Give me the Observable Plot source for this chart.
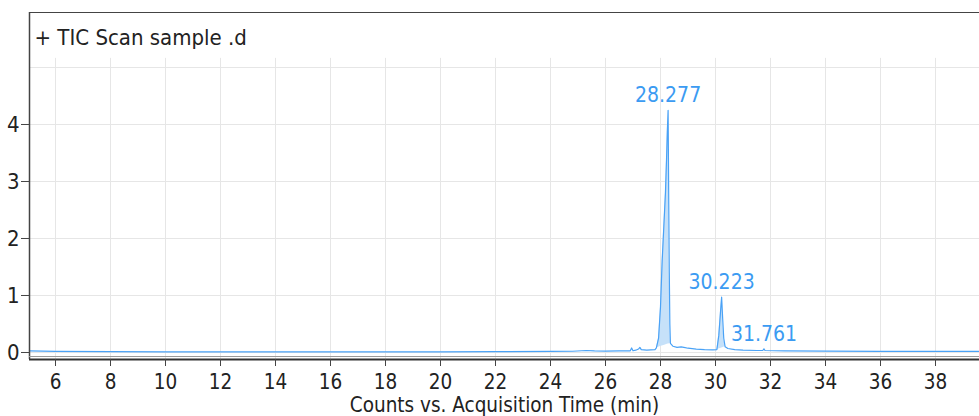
<!DOCTYPE html>
<html>
<head>
<meta charset="utf-8">
<script src="https://cdn.jsdelivr.net/npm/d3@7"></script>
<script src="https://cdn.jsdelivr.net/npm/@observablehq/plot@0.6"></script>
<style>
  html, body { margin: 0; padding: 0; background: #fff; }
  #chart { width: 979px; height: 416px; overflow: hidden; }
</style>
</head>
<body>
<div id="chart"></div>
<script>
// ---- Data ----
const chartTitle = "+ TIC Scan sample .d";
const xAxisTitle = "Counts vs. Acquisition Time (min)";

const times = [5.05, 6, 8, 10, 12, 15, 18, 20, 22, 24, 24.8, 25.3, 25.6, 26.0, 26.5, 26.9, 26.95, 27.0, 27.1, 27.2, 27.25, 27.3, 27.5, 27.8, 27.85, 27.93, 28.0, 28.06, 28.12, 28.18, 28.22, 28.25, 28.277, 28.3, 28.32, 28.34, 28.36, 28.45, 28.6, 28.75, 28.85, 29.0, 29.3, 29.6, 29.9, 30.05, 30.12, 30.18, 30.223, 30.26, 30.3, 30.35, 30.45, 30.7, 31.0, 31.5, 31.72, 31.761, 31.8, 32.5, 34, 36, 38, 39.6];
const counts = [0.03, 0.02, 0.015, 0.012, 0.012, 0.012, 0.012, 0.012, 0.014, 0.018, 0.022, 0.035, 0.028, 0.025, 0.03, 0.03, 0.08, 0.03, 0.04, 0.06, 0.09, 0.05, 0.04, 0.05, 0.08, 0.25, 0.8, 1.6, 2.2, 2.8, 3.4, 3.9, 4.25, 2.6, 1.4, 0.5, 0.16, 0.11, 0.09, 0.1, 0.09, 0.075, 0.06, 0.05, 0.045, 0.05, 0.3, 0.7, 0.97, 0.6, 0.25, 0.1, 0.07, 0.05, 0.04, 0.035, 0.035, 0.065, 0.035, 0.03, 0.025, 0.02, 0.02, 0.02];

// Labelled peaks (retention time, apex height)
const peakTimes = [28.277, 30.223, 31.761];
const peakHeights = [4.25, 0.97, 0.065];
const peakLabels = ["28.277", "30.223", "31.761"];

// Integrated peak windows (start, end)
const fillStarts = [27.85, 30.05];
const fillEnds = [28.36, 30.35];

const xTicks = [6, 8, 10, 12, 14, 16, 18, 20, 22, 24, 26, 28, 30, 32, 34, 36, 38];
const yTickLabels = [0, 1, 2, 3, 4];
const yGrid = [0, 1, 2, 3, 4, 5];

// ---- Derived tables ----
const trace = times.map((t, i) => ({t, v: counts[i]}));
const peaks = peakTimes.map((t, i) => ({t, v: peakHeights[i], label: peakLabels[i]}));
const fills = [];
fillStarts.forEach((s, k) => {
  const e = fillEnds[k];
  const pts = trace.filter(d => d.t >= s && d.t <= e);
  const v0 = pts[0].v, v1 = pts[pts.length - 1].v;
  pts.forEach(d => fills.push({peak: k, t: d.t, v: d.v, base: v0 + (v1 - v0) * (d.t - s) / (e - s)}));
});

const xDomain = [5.0545, 39.6];
const yDomain = [-0.123, 5.965];
const gridTop = 5.16;

const lineColor = "#4aa2f6";
const labelColor = "#3b9bf2";
const fillColor = "#c6e1f9";
const axisColor = "#444";
const font = "'DejaVu Sans Condensed', 'DejaVu Sans', sans-serif";

const chart = Plot.plot({
  width: 979,
  height: 416,
  marginLeft: 29,
  marginRight: 0,
  marginTop: 12,
  marginBottom: 57,
  style: {fontFamily: font, fontSize: "21px", color: "#222", background: "#fff"},
  x: {domain: xDomain},
  y: {domain: yDomain},
  marks: [
    Plot.ruleY(yGrid, {stroke: "#e6e6e6", strokeWidth: 1}),
    Plot.ruleX(xTicks, {y1: yDomain[0], y2: gridTop, stroke: "#e6e6e6", strokeWidth: 1}),
    Plot.areaY(fills, {x: "t", y1: "base", y2: "v", z: "peak", fill: fillColor, curve: "linear"}),
    Plot.line(trace, {x: "t", y: "v", stroke: lineColor, strokeWidth: 1.2, curve: "linear"}),
    Plot.text(peaks, {x: "t", y: "v", text: "label", fill: labelColor, fontSize: 21, textAnchor: "middle", lineAnchor: "bottom", dy: -8}),
    // frame
    Plot.ruleX([xDomain[0]], {stroke: axisColor, strokeWidth: 1.5}),
    Plot.ruleY([yDomain[1]], {stroke: axisColor, strokeWidth: 1.2}),
    Plot.ruleY([yDomain[0]], {stroke: "#999", strokeWidth: 1, dy: -3}),
    Plot.ruleY([yDomain[0]], {stroke: "#333", strokeWidth: 2}),
    Plot.axisX({ticks: xTicks, tickSize: 7, tickPadding: 8, fontSize: 20.5, label: null, stroke: axisColor, tickFormat: "d"}),
    Plot.axisY({ticks: yTickLabels, tickSize: 8, tickPadding: 2, fontSize: 22, label: null, stroke: axisColor, tickFormat: "d"}),
    Plot.text([chartTitle], {frameAnchor: "top-left", dx: 5, dy: 32, textAnchor: "start", lineAnchor: "bottom", fontSize: 22, fill: "#222"}),
    Plot.text([xAxisTitle], {frameAnchor: "bottom", dy: 52, textAnchor: "middle", lineAnchor: "bottom", fontSize: 20.5, fill: "#222"})
  ]
});
document.getElementById("chart").appendChild(chart);
</script>
</body>
</html>
